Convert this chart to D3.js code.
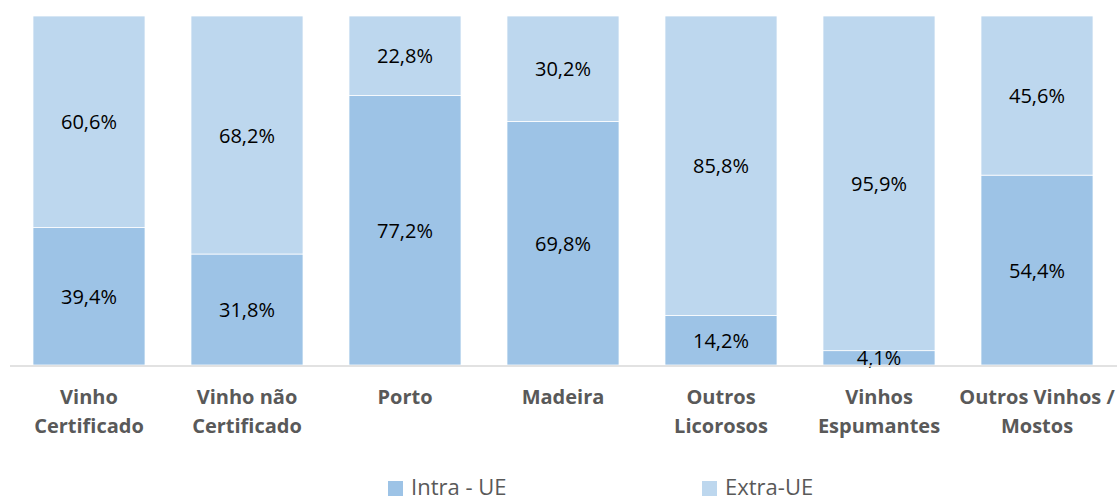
<!DOCTYPE html>
<html><head><meta charset="utf-8">
<script src="https://cdn.jsdelivr.net/npm/d3@7"></script>
<style>body{margin:0;background:#fff}svg{display:block}</style>
</head><body>
<svg id="c" width="1117" height="502"></svg>
<script>
const categories = [["Vinho","Certificado"],["Vinho não","Certificado"],["Porto"],["Madeira"],["Outros","Licorosos"],["Vinhos","Espumantes"],["Outros Vinhos /","Mostos"]];
const intraUE = [39.4, 31.8, 77.2, 69.8, 14.2, 4.1, 54.4];
const extraUE = [60.6, 68.2, 22.8, 30.2, 85.8, 95.9, 45.6];
const seriesNames = ["Intra - UE", "Extra-UE"];
const colors = ["#9DC3E6", "#BDD7EE"];

const svg = d3.select("#c");
const font = "'Open Sans', 'Noto Sans', sans-serif";
const x = d3.scaleBand().domain(d3.range(categories.length)).range([10, 1116]).paddingInner(0.291).paddingOuter(0.1455);
const y = d3.scaleLinear().domain([0, 100]).range([365, 16]);

const rows = categories.map((c, i) => ({i, intra: intraUE[i], extra: extraUE[i]}));
const stack = d3.stack().keys(["intra", "extra"])(rows);
const fmt = v => v.toFixed(1).replace(".", ",") + "%";

const g = svg.append("g");
stack.forEach((s, si) => {
  g.selectAll(null).data(s).join("rect")
    .attr("x", d => x(d.data.i)).attr("width", x.bandwidth())
    .attr("y", d => y(d[1])).attr("height", d => y(d[0]) - y(d[1]))
    .attr("fill", colors[si]).attr("stroke", "#fff").attr("stroke-width", 0.75);
});
svg.append("line").attr("x1", 10).attr("x2", 1117).attr("y1", 366).attr("y2", 366).attr("stroke", "#d9d9d9").attr("stroke-width", 1.5);

stack.forEach((s, si) => {
  g.selectAll(null).data(s).join("text")
    .attr("x", d => x(d.data.i) + x.bandwidth() / 2)
    .attr("y", d => (y(d[0]) + y(d[1])) / 2)
    .attr("dy", "0.38em").attr("text-anchor", "middle")
    .attr("font-family", font).attr("font-size", 20).attr("fill", "#000")
    .text(d => fmt(d[1] - d[0]));
});

categories.forEach((c, i) => {
  const t = svg.append("text").attr("text-anchor", "middle").attr("font-family", font)
    .attr("font-weight", "bold").attr("font-size", 20).attr("fill", "#595959");
  c.forEach((line, j) => t.append("tspan").attr("x", x(i) + x.bandwidth() / 2).attr("y", 404 + j * 29).text(line));
});

const legX = [388, 702];
seriesNames.forEach((n, i) => {
  svg.append("rect").attr("x", legX[i]).attr("y", 481).attr("width", 15).attr("height", 15).attr("fill", colors[i]);
  svg.append("text").attr("x", legX[i] + 23).attr("y", 495).attr("font-family", font)
    .attr("font-size", 22).attr("fill", "#595959").text(n);
});
</script>
</body></html>
